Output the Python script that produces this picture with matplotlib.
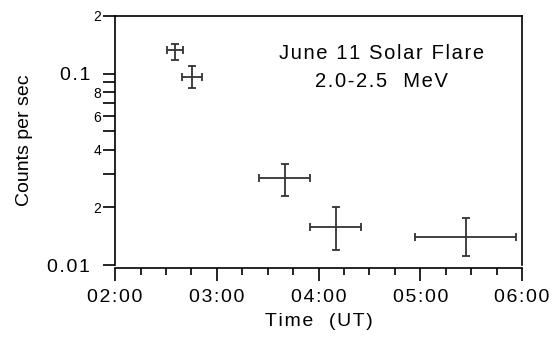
import matplotlib.pyplot as plt
from matplotlib.ticker import FixedLocator, FuncFormatter, MultipleLocator

plt.rcParams['font.family'] = ['Liberation Sans', 'DejaVu Sans']

# Flare light curve, 2.0-2.5 MeV
times = ['02:35.6', '02:45.5', '03:40', '04:10', '05:26.7']   # bin centres (UT)
half_width_min = [4.7, 5.8, 15, 15, 30]                        # half bin width, minutes
rates = [0.132, 0.0964, 0.0286, 0.0159, 0.0140]
err_hi = [0.143, 0.109, 0.0338, 0.0200, 0.0176]
err_lo = [0.118, 0.0845, 0.0229, 0.0120, 0.0112]


def to_hours(s):
    h, m = s.split(':')
    return int(h) + float(m) / 60


def spaced(s, sp='\u200a'):
    # the original plot has loose letter spacing
    return sp.join(s)


x = [to_hours(t) for t in times]
xerr = [w / 60 for w in half_width_min]
yerr = [[r - lo for r, lo in zip(rates, err_lo)],
        [hi - r for r, hi in zip(rates, err_hi)]]

fig = plt.figure(figsize=(5.56, 3.39), dpi=100)
ax = fig.add_axes([0.207, 0.218, 0.732, 0.735])

ax.errorbar(x, rates, xerr=xerr, yerr=yerr, fmt='none', ecolor='#333333',
            elinewidth=1.3, capsize=3, capthick=1.3)

ax.set_yscale('log')
ax.set_ylim(0.01, 0.2)
ax.set_xlim(2, 6)

# y ticks: big labels on decades, small labels on some minors
ax.yaxis.set_major_locator(FixedLocator([0.01, 0.1]))
ax.yaxis.set_major_formatter(FuncFormatter(lambda v, p: spaced('%g' % v)))
minor_vals = [0.02, 0.03, 0.04, 0.05, 0.06, 0.07, 0.08, 0.09, 0.2]
minor_labels = {0.02: '2', 0.04: '4', 0.06: '6', 0.08: '8', 0.2: '2'}
ax.yaxis.set_minor_locator(FixedLocator(minor_vals))
ax.yaxis.set_minor_formatter(FuncFormatter(
    lambda v, p: next((lab for k, lab in minor_labels.items() if abs(k - v) < 1e-9), '')))

ax.xaxis.set_major_locator(MultipleLocator(1))
ax.xaxis.set_minor_locator(MultipleLocator(0.25))
ax.xaxis.set_major_formatter(FuncFormatter(lambda v, p: spaced('0%d:00' % round(v))))

ax.tick_params(which='both', direction='out', color='black', width=1.2)
ax.tick_params(axis='y', which='major', length=9, labelsize=14, pad=9)
ax.tick_params(axis='y', which='minor', length=9, labelsize=10, pad=1)
ax.tick_params(axis='x', which='major', length=9, labelsize=14, pad=6)
ax.tick_params(axis='x', which='minor', length=5)

for s in ax.spines.values():
    s.set_linewidth(1.2)
ax.spines['bottom'].set_position(('outward', 2))

ax.set_ylabel('Counts per sec', fontsize=14, labelpad=10)
ax.set_xlabel(spaced('Time  (UT)'), fontsize=14, labelpad=5)

ax.text(0.655, 0.793, spaced('June 11 Solar Flare') + '\n' + spaced('2.0-2.5  MeV'),
        transform=ax.transAxes, ha='center', va='center', fontsize=14.5,
        linespacing=1.6)

fig.savefig('out.png', dpi=100)
